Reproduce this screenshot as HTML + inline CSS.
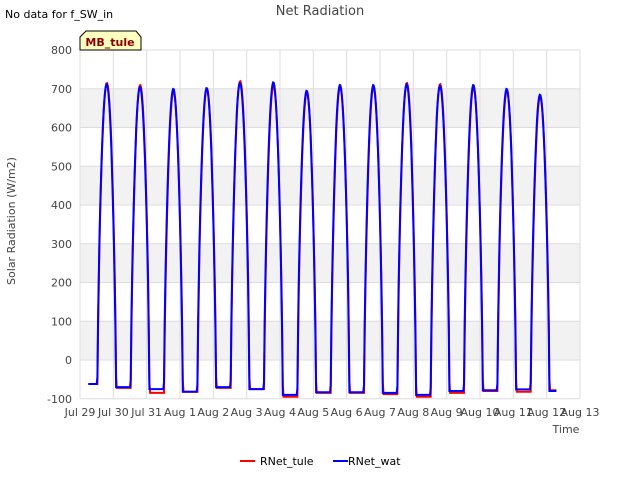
<!DOCTYPE html>
<html><head><meta charset="utf-8"><style>
body{margin:0;background:#fff;font-family:"Liberation Sans","DejaVu Sans",sans-serif;}
svg text{font-family:"DejaVu Sans","Liberation Sans",sans-serif;}
</style></head><body>
<svg id="c" width="640" height="480">
<rect width="640" height="480" fill="#fff"/>
<text x="5" y="18" font-size="11" fill="#000">No data for f_SW_in</text>
<text x="320" y="15" font-size="13" fill="#444" text-anchor="middle">Net Radiation</text>
<g id="plot"></g>
<text x="19" y="225" font-size="11" fill="#444" text-anchor="middle" transform="rotate(-90 15 225)">Solar Radiation (W/m2)</text>
<text x="566" y="433" font-size="11" fill="#444" text-anchor="middle">Time</text>
<g>
<path d="M80,50 L80,37 L86,31 L136,31 L141,37 L141,50 Z" fill="#ffffc0" stroke="#000" stroke-width="1"/>
<text x="110" y="46" font-size="11" font-weight="bold" fill="#8b0000" text-anchor="middle">MB_tule</text>
</g>
<g>
<line x1="240" y1="461" x2="255" y2="461" stroke="#f00" stroke-width="2"/>
<text x="260" y="465" font-size="11" fill="#000">RNet_tule</text></g>
<g>
<line x1="333" y1="461" x2="348" y2="461" stroke="#00f" stroke-width="2"/>
<text x="348" y="465" font-size="11" fill="#000">RNet_wat</text></g>
</svg>
<script>
const xTicks=["Jul 29","Jul 30","Jul 31","Aug 1","Aug 2","Aug 3","Aug 4","Aug 5","Aug 6","Aug 7","Aug 8","Aug 9","Aug 10","Aug 11","Aug 12","Aug 13"];
const yTicks=[-100,0,100,200,300,400,500,600,700,800];
const peaksTule=[715,710,695,700,720,710,690,705,705,715,712,705,695,680];
const peaksWat=[712,705,700,702,715,717,695,710,710,712,708,710,700,685];
const nightsTule=[-62,-72,-85,-82,-72,-75,-95,-85,-85,-88,-95,-85,-80,-82,-78];
const nightsWat=[-62,-70,-75,-82,-70,-75,-90,-83,-83,-85,-90,-80,-78,-76,-80];
const X0=80,X1=580,Y0=360,YS=38.75;
const xs=d=>X0+(X1-X0)*d/15, ys=v=>Y0-v*YS/100;
const ns="http://www.w3.org/2000/svg",g=document.getElementById('plot');
function mk(t,a){const e=document.createElementNS(ns,t);for(const k in a)e.setAttribute(k,a[k]);g.appendChild(e);return e;}
for(let i=0;i<yTicks.length-1;i++){
 if(yTicks[i]>=0 && (yTicks[i]/100)%2===0){const r=mk('rect',{x:X0,y:ys(yTicks[i]+100),width:X1-X0,height:YS,fill:'#f2f2f2'});
 
 }
}
yTicks.forEach(v=>{const l=mk('line',{x1:X0,x2:X1,y1:ys(v),y2:ys(v),stroke:'#ddd'});


const t=mk('text',{x:72,y:ys(v)+4,'font-size':11,fill:'#444','text-anchor':'end'});t.textContent=v;

});
xTicks.forEach((s,i)=>{const l=mk('line',{x1:xs(i),x2:xs(i),y1:ys(800),y2:ys(-100),stroke:'#ddd'});


const t=mk('text',{x:xs(i),y:416,'font-size':11,fill:'#444','text-anchor':'middle'});t.textContent=s;

});
function series(peaks,nights,off){
 let p=[];const step=1/48;
 for(let d=0.25;d<=14.3;d+=step){
  const day=Math.floor(d),f=d-day;
  const n=nights[Math.min(day+(f>0.8?1:0),nights.length-1)];
  let v=n;
  if(day<peaks.length&&f>0.52+off&&f<1.08+off){const u=(f-0.52-off)/0.56;v=n+(peaks[day]-n)*Math.pow(Math.sin(Math.PI*u),0.7);}
  if(day>=1&&f<0.08+off&&day-1<peaks.length){const u=(f+1-0.52-off)/0.56;if(u<1)v=nights[day]+(peaks[day-1]-nights[day])*Math.pow(Math.sin(Math.PI*u),0.7);}
  p.push(xs(d).toFixed(1)+','+ys(v).toFixed(1));
 }
 return p.join(' ');
}
const a=mk('polyline',{points:series(peaksTule,nightsTule,0.005),fill:'none',stroke:'#f00','stroke-width':2});


const b=mk('polyline',{points:series(peaksWat,nightsWat,0),fill:'none',stroke:'#00f','stroke-width':2});


</script>
</body></html>
